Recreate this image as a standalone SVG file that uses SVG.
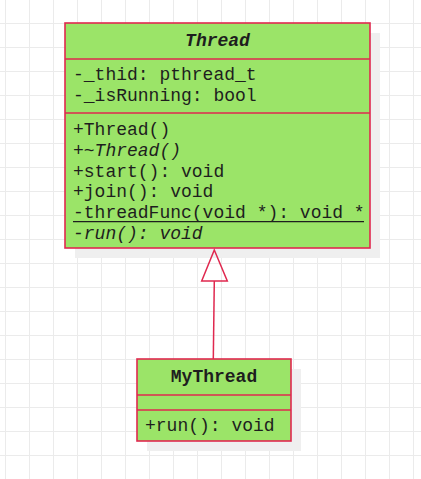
<svg xmlns="http://www.w3.org/2000/svg" width="421" height="479" viewBox="0 0 421 479">
  <style>
    .box { fill: #9be468; stroke: #e0284f; stroke-width: 1.6; }
    .div { stroke: #e0284f; stroke-width: 1.6; fill: none; }
    .shadow { fill: #efefef; }
    .t { font-family: "Liberation Mono", "Courier New", monospace; font-size: 18px; fill: #1e1e1e; }
    .title { font-weight: bold; text-anchor: middle; }
    .it { font-style: italic; }
    .edge { stroke: #e0284f; stroke-width: 1.5; fill: none; }
  </style>
  <defs>
    <pattern id="grid" x="5" y="23" width="24" height="24" patternUnits="userSpaceOnUse">
      <path d="M0.5 0V24M0 0.5H24" stroke="#ebebeb" stroke-width="1" fill="none"/>
    </pattern>
  </defs>

  <!-- background grid -->
  <rect width="421" height="479" fill="#ffffff"/>
  <rect width="421" height="479" fill="url(#grid)"/>

  <!-- class Thread -->
  <g id="thread">
    <rect class="shadow" x="75" y="33" width="305" height="225"/>
    <rect class="box" x="65" y="23" width="305" height="225"/>
    <path class="div" d="M65 59H370M65 113H370"/>
    <text class="t title it" x="217.5" y="46">Thread</text>
    <text class="t" x="73" y="80">-_thid: pthread_t</text>
    <text class="t" x="73" y="100.5">-_isRunning: bool</text>
    <text class="t" x="73" y="135">+Thread()</text>
    <text class="t" x="73" y="155.8">+~<tspan class="it">Thread()</tspan></text>
    <text class="t" x="73" y="176.6">+start(): void</text>
    <text class="t" x="73" y="197.4">+join(): void</text>
    <text class="t" x="73" y="218.2">-threadFunc(void *): void *</text>
    <line x1="73" y1="221.7" x2="364" y2="221.7" stroke="#1e1e1e" stroke-width="1.3"/>
    <text class="t it" x="73" y="239">-run(): void</text>
  </g>

  <!-- class MyThread -->
  <g id="mythread">
    <rect class="shadow" x="147" y="369" width="154" height="82"/>
    <rect class="box" x="137" y="359" width="154" height="82"/>
    <path class="div" d="M137 395H291M137 410H291"/>
    <text class="t title" x="214" y="382">MyThread</text>
    <text class="t" x="145" y="431">+run(): void</text>
  </g>

  <!-- generalization: MyThread extends Thread -->
  <g id="connectors">
    <line class="edge" x1="213.3" y1="359" x2="214.3" y2="281"/>
    <polygon class="edge" fill="#ffffff" points="214.3,250 227.3,281 201.7,281"/>
  </g>
</svg>
